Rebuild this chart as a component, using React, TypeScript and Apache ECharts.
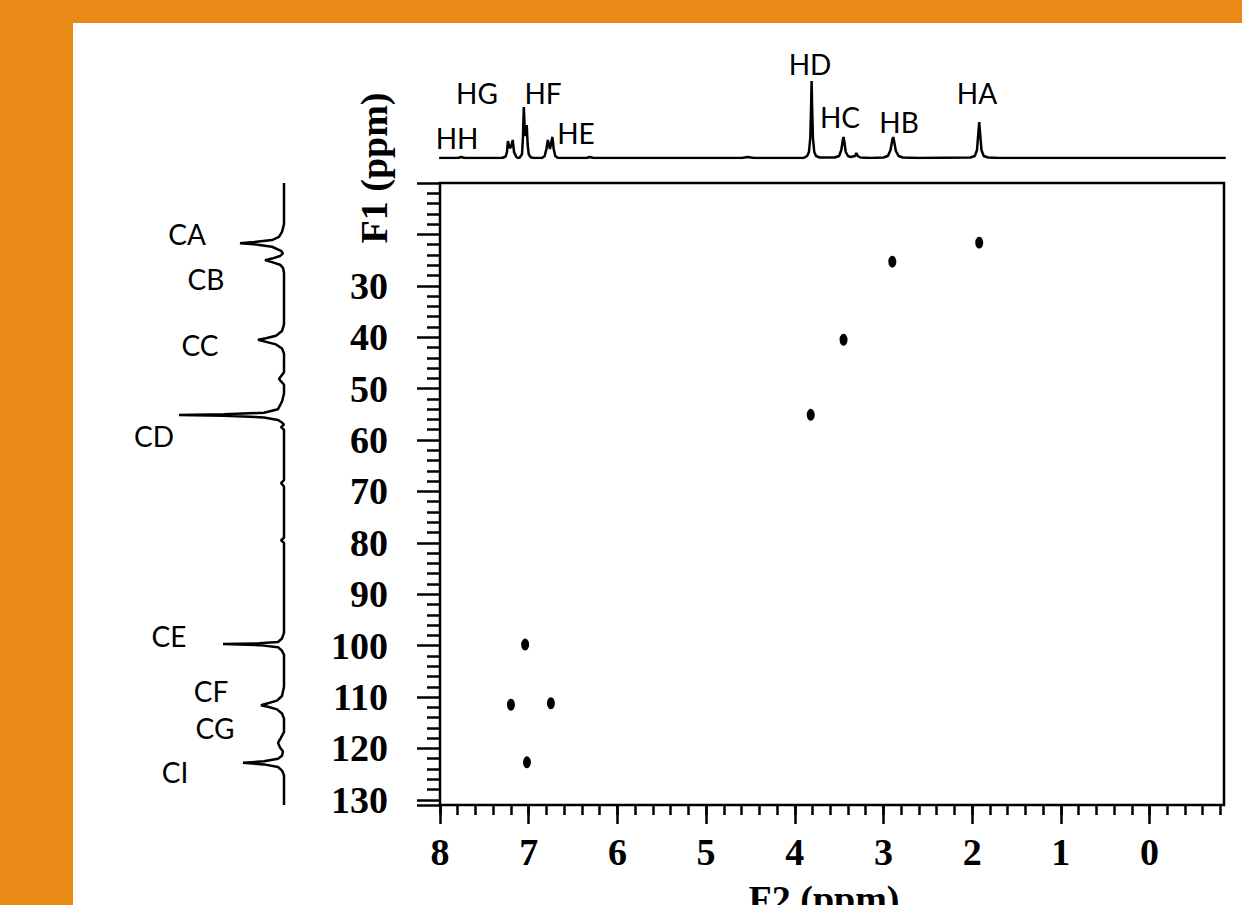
import React, { useEffect, useRef } from "react";
import * as echarts from "echarts";

// F2 (1H) axis ticks, ppm
const xMajorTicks = [0, 1, 2, 3, 4, 5, 6, 7, 8];
const xMinorTicks: number[] = [];
for (let i = -4; i <= 40; i++) xMinorTicks.push(Math.round(i * 2) / 10);

// HSQC cross peaks: [F2 ppm (1H), F1 ppm (13C)]
const crossPeaks: [number, number][] = [
  [1.92, 21.6],
  [2.9, 25.3],
  [3.45, 40.5],
  [3.82, 55.1],
  [7.04, 99.8],
  [7.2, 111.5],
  [6.75, 111.2],
  [7.02, 122.7],
];

// 1D 1H trace along top: [ppm, intensity]
const protonTrace: [number, number][] = [
  [8.01, 0], [7.8, 0], [7.76, 1], [7.72, 0],
  [7.3, 0], [7.26, 1.5], [7.245, 6], [7.234, 17], [7.215, 10], [7.2, 11], [7.18, 18], [7.165, 6], [7.14, 1], [7.12, 0],
  [7.1, 0.5], [7.075, 4], [7.065, 20], [7.055, 51], [7.045, 30], [7.035, 22], [7.022, 33], [7.012, 14], [7.0, 4], [6.98, 1], [6.95, 0],
  [6.85, 0], [6.82, 2], [6.8, 9], [6.784, 18], [6.76, 9], [6.733, 21], [6.718, 9], [6.7, 2], [6.67, 0],
  [6.35, 0], [6.31, 1], [6.27, 0],
  [4.6, 0], [4.53, 1], [4.46, 0],
  [3.9, 0], [3.86, 2], [3.84, 6], [3.825, 20], [3.816, 50], [3.81, 77], [3.804, 50], [3.795, 20], [3.78, 6], [3.76, 2], [3.72, 0.5],
  [3.55, 0.5], [3.5, 2], [3.475, 8], [3.458, 18], [3.45, 21], [3.44, 16], [3.425, 6], [3.4, 2], [3.37, 1],
  [3.32, 2], [3.305, 5], [3.29, 2], [3.26, 0.5], [3.15, 0],
  [3.0, 0.5], [2.95, 2], [2.92, 8], [2.9, 18], [2.89, 21], [2.88, 17], [2.86, 7], [2.83, 2], [2.78, 0.5], [2.6, 0],
  [2.02, 0.5], [1.97, 2], [1.945, 8], [1.93, 25], [1.92, 36], [1.91, 25], [1.895, 8], [1.87, 2], [1.82, 0.5], [1.7, 0],
  [-0.86, 0],
];

// 1D 13C trace along left: [intensity, ppm]
const carbonTrace: [number, number][] = [
  [0, 10], [0, 18], [2, 19.5], [5, 20.5], [12, 21.1], [30, 21.5], [44, 21.7], [30, 21.9], [12, 22.4], [3, 23.2], [1, 23.7],
  [4, 24.2], [12, 24.7], [19, 25.0], [12, 25.4], [4, 25.9], [1, 26.5], [0, 27.5],
  [0, 37.5], [2, 38.8], [8, 39.7], [18, 40.2], [26, 40.5], [18, 40.9], [8, 41.4], [2, 42.2], [0, 43.2],
  [0, 46.8], [3, 47.6], [5, 48.1], [3, 48.6], [0, 49.2],
  [0, 51], [2, 52.5], [6, 54.0], [20, 54.7], [60, 55.0], [105, 55.15], [60, 55.3], [20, 55.6], [6, 56.1], [2, 56.6], [0, 57.0],
  [3, 57.5], [0, 58.0],
  [0, 67.8], [3, 68.4], [0, 69.0],
  [0, 79.0], [3, 79.5], [0, 80.0],
  [0, 97.5], [2, 98.6], [6, 99.3], [25, 99.55], [61, 99.7], [25, 99.9], [6, 100.3], [2, 101.0], [0, 101.8],
  [0, 108], [2, 109.8], [7, 110.7], [16, 111.2], [23, 111.6], [16, 111.9], [7, 112.4], [2, 113.2], [0, 114.2],
  [0, 116.8], [3, 117.9], [6, 118.9], [4, 119.8], [1, 120.6], [2, 121.4], [6, 122.0], [20, 122.5], [41, 122.8],
  [20, 123.1], [6, 123.6], [2, 124.3], [0, 125.2], [0, 131],
];

// peak labels
const protonLabels: [string, number, number][] = [
  ["HH", 457, 138], ["HG", 477, 93], ["HF", 543, 93], ["HE", 576, 133],
  ["HD", 810, 64], ["HC", 840, 117], ["HB", 899, 122], ["HA", 977, 93],
];
const carbonLabels: [string, number, number][] = [
  ["CA", 187, 234], ["CB", 206, 279], ["CC", 200, 345], ["CD", 154, 436],
  ["CE", 169, 636], ["CF", 211, 691], ["CG", 215, 728], ["CI", 175, 772],
];

const SERIF = "'Liberation Serif', 'Times New Roman', serif";
const SANS = "Lato, 'Noto Sans', sans-serif";
const ORANGE = "#E98A17";

export default function App() {
  const ref = useRef<HTMLDivElement>(null);
  useEffect(() => {
    if (!ref.current) return;
    const chart = echarts.init(ref.current, null, { renderer: "svg" });
    const labelGraphics: any[] = [];
    protonLabels.concat(carbonLabels).forEach(([t, x, y]) => {
      labelGraphics.push({
        type: "text",
        x,
        y,
        style: { text: t, fill: "#000", font: `400 28px ${SANS}`, textAlign: "center", textVerticalAlign: "middle" },
      });
    });
    const axisLabelStyle = { color: "#000", fontFamily: SERIF, fontWeight: "bold", fontSize: 38 };
    chart.setOption({
      animation: false,
      backgroundColor: "#fff",
      graphic: [
        { type: "rect", shape: { x: 0, y: 0, width: 1242, height: 23 }, style: { fill: ORANGE }, z: 0 },
        { type: "rect", shape: { x: 0, y: 0, width: 73, height: 905 }, style: { fill: ORANGE }, z: 0 },
        ...labelGraphics,
        {
          type: "text",
          x: 374,
          y: 168,
          rotation: Math.PI / 2,
          style: { text: "F1 (ppm)", fill: "#000", font: `bold 38px ${SERIF}`, textAlign: "center", textVerticalAlign: "middle" },
        },
        {
          type: "text",
          x: 824,
          y: 880,
          style: { text: "F2 (ppm)", fill: "#000", font: `bold 38px ${SERIF}`, textAlign: "center", textVerticalAlign: "top" },
        },
      ],
      grid: [
        { left: 440, top: 183, width: 784, height: 622, show: true, borderColor: "#000", borderWidth: 2.5, backgroundColor: "transparent" },
        { left: 440, top: 58, width: 784, height: 100 },
        { left: 170, top: 183, width: 114, height: 622 },
      ],
      xAxis: [
        {
          gridIndex: 0, type: "value", min: -0.84, max: 8, inverse: true, position: "bottom",
          axisLine: { show: false, onZero: false },
          axisTick: { show: true, customValues: xMajorTicks, length: 19, lineStyle: { color: "#000", width: 2.5 } },
          axisLabel: { customValues: xMajorTicks, margin: 28, ...axisLabelStyle },
          splitLine: { show: false },
        },
        {
          gridIndex: 0, type: "value", min: -0.84, max: 8, inverse: true, position: "bottom",
          axisLine: { show: false, onZero: false },
          axisTick: { show: true, customValues: xMinorTicks, length: 10, lineStyle: { color: "#000", width: 2.5 } },
          axisLabel: { show: false },
          splitLine: { show: false },
        },
        { gridIndex: 1, type: "value", min: -0.84, max: 8, inverse: true, show: false },
        { gridIndex: 2, type: "value", min: 0, max: 114, inverse: true, show: false },
      ],
      yAxis: [
        {
          gridIndex: 0, type: "value", min: 10, max: 131, interval: 10, inverse: true, position: "left",
          axisLine: { show: false, onZero: false },
          axisTick: { show: true, length: 23, lineStyle: { color: "#000", width: 2.5 } },
          minorTick: { show: true, splitNumber: 5, length: 13, lineStyle: { color: "#000", width: 2.5 } },
          axisLabel: { margin: 52, formatter: (v: number) => (v < 30 ? "" : String(v)), ...axisLabelStyle },
          splitLine: { show: false },
          minorSplitLine: { show: false },
        },
        { gridIndex: 1, type: "value", min: 0, max: 100, show: false },
        { gridIndex: 2, type: "value", min: 10, max: 131, inverse: true, show: false },
      ],
      series: [
        {
          type: "scatter", xAxisIndex: 0, yAxisIndex: 0, data: crossPeaks,
          symbol: "circle", symbolSize: [8, 12], itemStyle: { color: "#000", opacity: 1 }, silent: true,
        },
        {
          type: "line", xAxisIndex: 2, yAxisIndex: 1, data: protonTrace, showSymbol: false, symbol: "none",
          lineStyle: { color: "#000", width: 2.5 }, silent: true,
        },
        {
          type: "line", xAxisIndex: 3, yAxisIndex: 2, data: carbonTrace, showSymbol: false, symbol: "none",
          lineStyle: { color: "#000", width: 2.5 }, silent: true,
        },
      ],
    });
    return () => chart.dispose();
  }, []);
  return <div ref={ref} style={{ position: "fixed", left: 0, top: 0, width: 1242, height: 905 }} />;
}
